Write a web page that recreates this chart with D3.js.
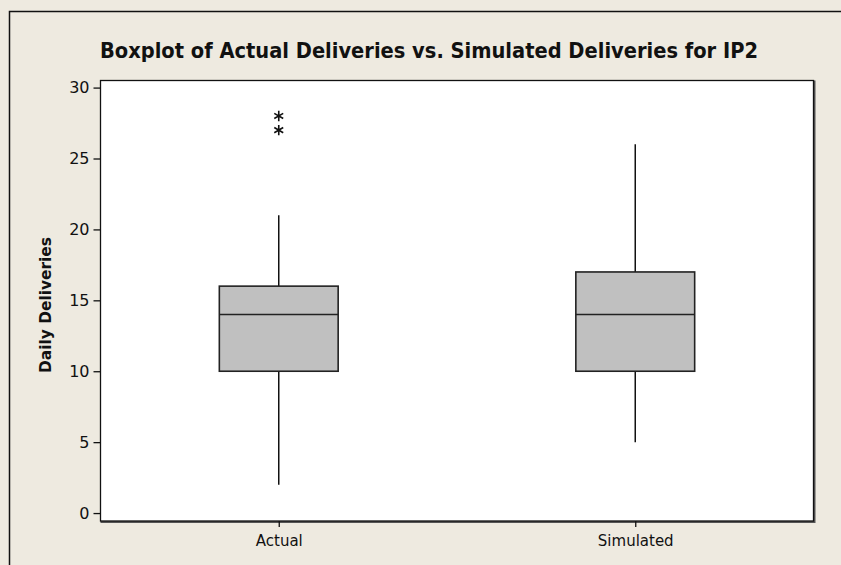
<!DOCTYPE html>
<html>
<head>
<meta charset="utf-8">
<script src="https://cdn.jsdelivr.net/npm/d3@7"></script>
<style>
  body { margin: 0; background: #eeeae0; }
  svg { display: block; }
  text { font-family: Tahoma, "DejaVu Sans", Verdana, sans-serif; fill: #111; }
</style>
</head>
<body>
<div id="wrapper"></div>
<script>
// data
const categories = ["Actual", "Simulated"];
const whiskerLow = [2, 5];
const q1 = [10, 10];
const medians = [14, 14];
const q3 = [16, 17];
const whiskerHigh = [21, 26];
const outliers = [[27, 28], []];
const yTicks = [0, 5, 10, 15, 20, 25, 30];

const width = 841, height = 565;
const margin = { top: 80.5, right: 27.5, bottom: 44, left: 100.5 };
const boundedWidth = width - margin.left - margin.right;
const boundedHeight = height - margin.top - margin.bottom;

const wrapper = d3.select("#wrapper")
    .append("svg")
    .attr("width", width)
    .attr("height", height);

// outer frame (runs off the right and bottom edges)
wrapper.append("rect")
    .attr("x", 9.5).attr("y", 11.5)
    .attr("width", width).attr("height", height)
    .attr("fill", "#eeeae0")
    .attr("stroke", "#111")
    .attr("stroke-width", 1.5);

const bounds = wrapper.append("g")
    .attr("transform", `translate(${margin.left},${margin.top})`);

const yScale = d3.scaleLinear()
    .domain([-0.56, 30.5])
    .range([boundedHeight, 0]);

const xScale = d3.scalePoint()
    .domain(categories)
    .range([0, boundedWidth])
    .padding(0.5);

const boxWidth = xScale.step() / 3;

// plot area
bounds.append("rect")
    .attr("x", 0).attr("y", 0)
    .attr("width", boundedWidth).attr("height", boundedHeight)
    .attr("fill", "#fff");
// shadow on right and bottom
bounds.append("path")
    .attr("d", `M${boundedWidth + 1},0 V${boundedHeight + 1} H0`)
    .attr("fill", "none")
    .attr("stroke", "#555")
    .attr("stroke-width", 2);
bounds.append("rect")
    .attr("x", 0).attr("y", 0)
    .attr("width", boundedWidth).attr("height", boundedHeight)
    .attr("fill", "none")
    .attr("stroke", "#111")
    .attr("stroke-width", 1.3);

// boxes
categories.forEach((c, i) => {
    const cx = xScale(c);
    const g = bounds.append("g");
    g.append("line")
        .attr("x1", cx).attr("x2", cx)
        .attr("y1", yScale(whiskerLow[i])).attr("y2", yScale(q1[i]))
        .attr("stroke", "#111").attr("stroke-width", 1.5);
    g.append("line")
        .attr("x1", cx).attr("x2", cx)
        .attr("y1", yScale(q3[i])).attr("y2", yScale(whiskerHigh[i]))
        .attr("stroke", "#111").attr("stroke-width", 1.5);
    g.append("rect")
        .attr("x", cx - boxWidth / 2)
        .attr("y", yScale(q3[i]))
        .attr("width", boxWidth)
        .attr("height", yScale(q1[i]) - yScale(q3[i]))
        .attr("fill", "#c0c0c0")
        .attr("stroke", "#222")
        .attr("stroke-width", 1.6);
    g.append("line")
        .attr("x1", cx - boxWidth / 2).attr("x2", cx + boxWidth / 2)
        .attr("y1", yScale(medians[i])).attr("y2", yScale(medians[i]))
        .attr("stroke", "#222").attr("stroke-width", 1.6);

    const star = d3.symbol()
        .type(d3.symbolAsterisk || d3.symbolCross)
        .size(75);
    g.selectAll(".outlier")
        .data(outliers[i])
        .join("path")
        .attr("class", "outlier")
        .attr("transform", d => `translate(${cx},${yScale(d)})`)
        .attr("d", star)
        .attr("fill", "none")
        .attr("stroke", "#111")
        .attr("stroke-width", 1.6);
});

// axes
const yAxisGenerator = d3.axisLeft(yScale)
    .tickValues(yTicks)
    .tickSize(7)
    .tickPadding(4);
const yAxis = bounds.append("g").call(yAxisGenerator);
yAxis.select(".domain").remove();
yAxis.selectAll("line").attr("stroke", "#111").attr("stroke-width", 1.3);
yAxis.selectAll("text")
    .style("font-size", "16px")
    .attr("fill", "#111");

const xAxisGenerator = d3.axisBottom(xScale)
    .tickSize(6)
    .tickPadding(8);
const xAxis = bounds.append("g")
    .attr("transform", `translate(0,${boundedHeight})`)
    .call(xAxisGenerator);
xAxis.select(".domain").remove();
xAxis.selectAll("line").attr("stroke", "#111").attr("stroke-width", 1.3);
xAxis.selectAll("text")
    .style("font-size", "15px")
    .attr("fill", "#111");

// title and axis label
wrapper.append("text")
    .attr("x", 429)
    .attr("y", 58)
    .attr("text-anchor", "middle")
    .attr("textLength", 658)
    .attr("lengthAdjust", "spacingAndGlyphs")
    .style("font-size", "21px")
    .style("font-weight", "bold")
    .text("Boxplot of Actual Deliveries vs. Simulated Deliveries for IP2");

wrapper.append("text")
    .attr("transform", `translate(51,${305}) rotate(-90)`)
    .attr("text-anchor", "middle")
    .attr("textLength", 136)
    .attr("lengthAdjust", "spacingAndGlyphs")
    .style("font-size", "15px")
    .style("font-weight", "bold")
    .text("Daily Deliveries");
</script>
</body>
</html>
